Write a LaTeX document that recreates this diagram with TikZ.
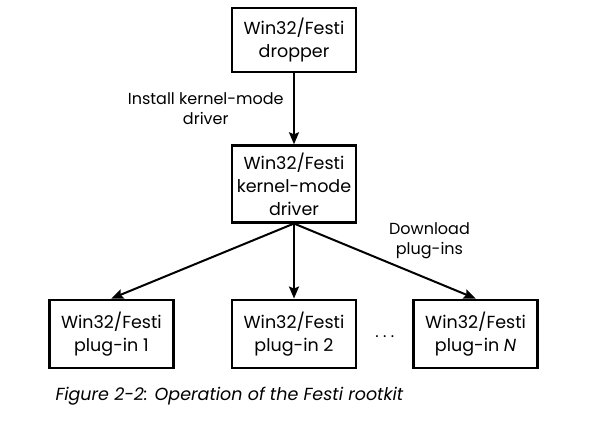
\documentclass[tikz,border=0pt]{standalone}
\usepackage{fontspec}
\setmainfont{Poppins}
\usetikzlibrary{arrows.meta,positioning,calc}

\begin{document}
\begin{tikzpicture}[x=1pt,y=-1pt,node distance=71pt and 56pt,
  box/.style={draw,line width=2.6pt,align=center,font=\fontsize{17.5}{23}\selectfont,
    minimum width=124pt,minimum height=68pt,inner ysep=7pt},
  lbl/.style={align=center,font=\fontsize{16}{20}\selectfont},
  arr/.style={-{Stealth[length=12pt,width=10pt,inset=2pt]},line width=2pt}]
  \useasboundingbox (0,0) rectangle (595,425);
  \node[box,minimum height=64pt] (drop) at (294,40) {Win32/Festi\\dropper};
  \node[box,below=of drop] (drv) {Win32/Festi\\kernel-mode\\driver};
  \node[box,below=75pt of drv] (p2) {Win32/Festi\\plug-in 2};
  \node[box,left=of p2] (p1) {Win32/Festi\\plug-in 1};
  \node[box,right=55pt of p2] (p3) {Win32/Festi\\plug-in \textit{N}};
  \node[font=\fontsize{16}{20}\selectfont] (dots) at ($(p2.east)!.5!(p3.west)+(0,3)$) {.~.~.};
  \draw[arr] (drop)-- node[lbl,left=6pt]{Install kernel-mode\\driver}(drv);
  \draw[arr] (drv.south)--(p1.north);
  \draw[arr] (drv.south)--(p2.north);
  \draw[arr] (drv.south)-- node[lbl,above right=-2pt and 0pt]{Download\\plug-ins}(p3.north);
  \node[anchor=west,font=\fontsize{17.5}{20}\selectfont\itshape] (cap) at (52,396) {Figure 2-2: Operation of the Festi rootkit};
\end{tikzpicture}
\end{document}
